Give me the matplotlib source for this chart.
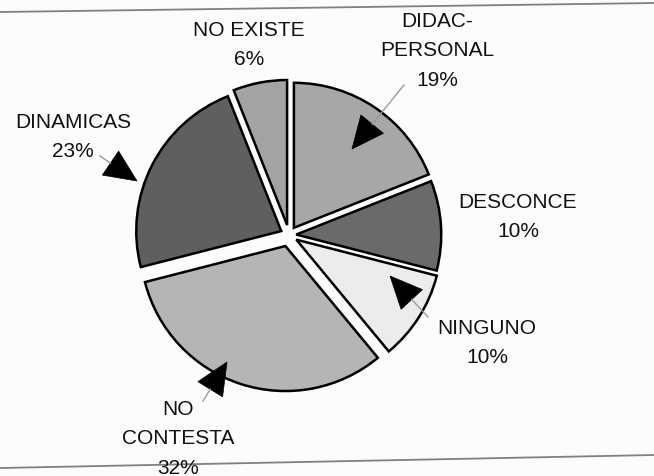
import numpy as np
import matplotlib
matplotlib.use("Agg")
import matplotlib.pyplot as plt
from matplotlib.patches import Polygon

W, H = 654, 477

# slices, clockwise from 12 o'clock
categories = ["DIDAC-\nPERSONAL", "DESCONCE", "NINGUNO", "NO\nCONTESTA", "DINAMICAS", "NO EXISTE"]
percent = [19, 10, 10, 32, 23, 6]
colors = ["#a7a7a7", "#6a6a6a", "#ececec", "#b5b5b5", "#5f5f5f", "#a3a3a3"]
explode = [0.06, 0.05, 0.06, 0.08, 0.06, 0.07]

# label centres and pointer geometry, in pixel layout (y measured from top)
label_pos = [(437, 51), (518, 217), (487, 343), (178, 439), (73, 137), (249, 45)]
pointers = {
    0: dict(tip=(352, 150), tail=(404, 86)),
    2: dict(tip=(390, 277), tail=(428, 318)),
    3: dict(tip=(227, 363), tail=(203, 402)),
    4: dict(tip=(137, 182), tail=(100, 157)),
}

plt.rcParams["font.family"] = ["Liberation Sans", "DejaVu Sans"]

fig = plt.figure(figsize=(W / 100, H / 100), dpi=100)
fig.patch.set_facecolor("#fcfcfc")

# pie on its own axes, centre (289, 236) px, radius 145 px
cx, cy, R, half = 289, 236, 145, 180
pax = fig.add_axes([(cx - half) / W, (H - cy - half) / H, 2 * half / W, 2 * half / H])
pax.pie(percent, startangle=90, counterclock=False, colors=colors, explode=explode,
        wedgeprops=dict(edgecolor="black", linewidth=1.8))
lim = half / R
pax.set_xlim(-lim, lim)
pax.set_ylim(-lim, lim)
pax.set_aspect("equal")
pax.axis("off")

# overlay in pixel coordinates for labels, pointers and rules
ax = fig.add_axes([0, 0, 1, 1], facecolor="none")
ax.set_xlim(0, W)
ax.set_ylim(H, 0)
ax.axis("off")

ax.plot([0, W], [13, 4], color="#808080", lw=1.3)
ax.plot([0, W], [469, 456], color="#808080", lw=1.3)

for i, (name, p) in enumerate(zip(categories, percent)):
    x, y = label_pos[i]
    ax.text(x, y, f"{name}\n{p}%", ha="center", va="center", fontsize=15,
            linespacing=1.72, color="#111111")


def pointer(tip, tail, length=32, width=29):
    tip = np.array(tip, float)
    tail = np.array(tail, float)
    d = tip - tail
    d /= np.hypot(*d)
    n = np.array([-d[1], d[0]])
    base = tip - d * length
    ax.plot([tail[0], base[0]], [tail[1], base[1]], color="#9a9a9a", lw=1.0)
    tri = [tip, base + n * width / 2, base - n * width / 2]
    ax.add_patch(Polygon(tri, closed=True, facecolor="black", edgecolor="black", lw=0.5))


for i, g in pointers.items():
    pointer(g["tip"], g["tail"])

fig.savefig("out.png", dpi=100, facecolor=fig.get_facecolor())
